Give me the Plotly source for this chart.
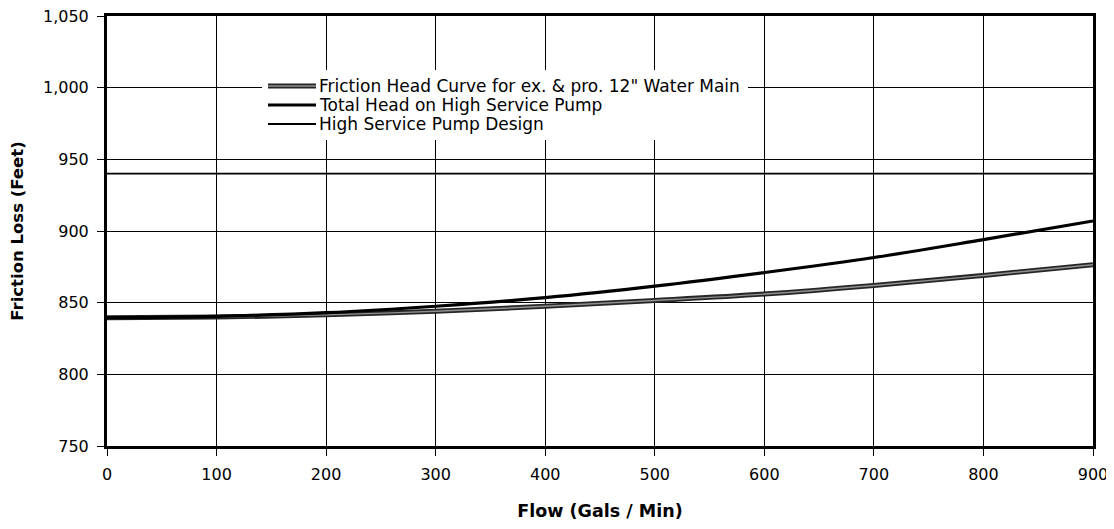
import plotly.graph_objects as go

flow = [0, 100, 200, 300, 400, 500, 600, 700, 800, 900]
friction_head = [839.5, 840.0, 841.5, 844.0, 847.5, 851.5, 856.0, 862.0, 869.0, 876.5]
total_head = [839.5, 840.5, 843.0, 847.5, 853.5, 861.5, 871.0, 881.5, 894.0, 907.0]
design_flow = [0, 900]
design_head = [940, 940]

names = [
    'Friction Head Curve for ex. & pro. 12" Water Main',
    'Total Head on High Service Pump',
    'High Service Pump Design',
]

FONT = "DejaVu Sans, Liberation Sans, Arial, sans-serif"

# page offset of the figure (browser body margin)
OFF = 8
W, H = 1106, 513
# plot-area geometry in screen px
L, R, T, B = 107, 1093, 16, 446
def px(x):
    return (x - L) / (R - L)
def py(y):
    return (B - y) / (B - T)

fig = go.Figure()
fig.add_trace(go.Scatter(x=flow, y=friction_head, mode="lines", name=names[0],
                         line=dict(color="#262626", width=5, shape="spline")))
fig.add_trace(go.Scatter(x=flow, y=friction_head, mode="lines", showlegend=False,
                         hoverinfo="skip", name=names[0],
                         line=dict(color="#909090", width=1.4, shape="spline")))
fig.add_trace(go.Scatter(x=flow, y=total_head, mode="lines", name=names[1],
                         line=dict(color="black", width=3.2, shape="spline")))
fig.add_trace(go.Scatter(x=design_flow, y=design_head, mode="lines", name=names[2],
                         line=dict(color="black", width=1.8)))

# legend (drawn with shapes + annotations to match the tight row spacing)
shapes = [dict(type="rect", xref="paper", yref="paper",
               x0=px(262), x1=px(748), y0=py(140), y1=py(70),
               fillcolor="white", line=dict(width=0), layer="above")]
row_y = [86, 105, 124]
sample_styles = [
    [dict(color="#262626", width=5), dict(color="#909090", width=1.4)],
    [dict(color="black", width=3.2)],
    [dict(color="black", width=1.8)],
]
annotations = []
for name, yy, styles in zip(names, row_y, sample_styles):
    for st in styles:
        shapes.append(dict(type="line", xref="paper", yref="paper",
                           x0=px(268), x1=px(316), y0=py(yy), y1=py(yy),
                           line=st, layer="above"))
    annotations.append(dict(xref="paper", yref="paper", x=px(317), y=py(yy),
                            xanchor="left", yanchor="middle", showarrow=False,
                            text=name, font=dict(family=FONT, size=17, color="black")))

fig.update_layout(
    width=W, height=H,
    margin=dict(l=L - OFF, r=W - (R - OFF), t=T - OFF, b=H - (B - OFF)),
    paper_bgcolor="white", plot_bgcolor="white",
    font=dict(family=FONT, color="black", size=16),
    showlegend=False,
    shapes=shapes,
    annotations=annotations,
)
fig.update_xaxes(
    range=[0, 900], dtick=100, tick0=0, automargin=False,
    showgrid=True, gridcolor="black", gridwidth=1,
    showline=True, linecolor="black", linewidth=3, mirror=True,
    ticks="outside", ticklen=7, tickcolor="black", tickwidth=1,
    ticklabelstandoff=5, ticklabeloverflow="allow",
    tickfont=dict(family=FONT, size=16, color="black"),
    title=dict(text="<b>Flow (Gals / Min)</b>", font=dict(family=FONT, size=17.5, color="black"),
               standoff=34),
    zeroline=False,
)
fig.update_yaxes(
    range=[750, 1050], dtick=50, tick0=750, tickformat=",", automargin=False,
    showgrid=True, gridcolor="black", gridwidth=1,
    showline=True, linecolor="black", linewidth=3, mirror=True,
    ticks="outside", ticklen=7, tickcolor="black", tickwidth=1,
    ticklabelstandoff=5, ticklabeloverflow="allow",
    tickfont=dict(family=FONT, size=16, color="black"),
    title=dict(text="<b>Friction Loss (Feet)</b>", font=dict(family=FONT, size=16.5, color="black"),
               standoff=16),
    zeroline=False,
)

fig.write_html("out.html")
